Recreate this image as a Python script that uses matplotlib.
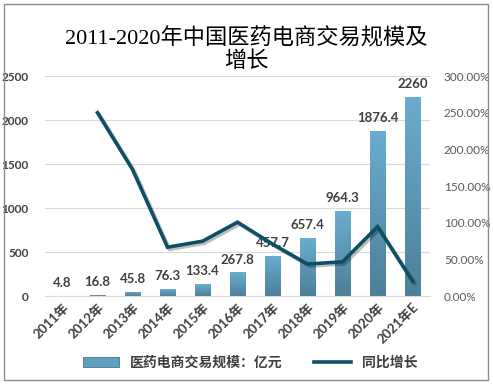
import matplotlib
matplotlib.use("Agg")
import matplotlib.pyplot as plt
import numpy as np
from matplotlib.patches import Rectangle, Patch
from matplotlib.lines import Line2D
from matplotlib.ticker import FuncFormatter, MultipleLocator
from matplotlib.colors import LinearSegmentedColormap
import matplotlib.patheffects as pe

plt.rcParams['font.family'] = ['Lato', 'Noto Sans CJK SC', 'DejaVu Sans']

categories = ['2011年', '2012年', '2013年', '2014年', '2015年', '2016年',
              '2017年', '2018年', '2019年', '2020年', '2021年E']
scale = [4.8, 16.8, 45.8, 76.3, 133.4, 267.8, 457.7, 657.4, 964.3, 1876.4, 2260]
growth = [None, 250.0, 172.6, 66.6, 74.8, 100.7, 70.9, 43.6, 46.7, 94.6, 20.4]
scale_labels = ['4.8', '16.8', '45.8', '76.3', '133.4', '267.8', '457.7',
                '657.4', '964.3', '1876.4', '2260']

title = '2011-2020年中国医药电商交易规模及\n增长'
bar_name = '医药电商交易规模：亿元'
line_name = '同比增长'

text_col = '#595959'
dark_col = '#404040'
line_col = '#0d4f66'

fig = plt.figure(figsize=(4.93, 3.84), dpi=100)
ax = fig.add_axes([0.0913, 0.229, 0.781, 0.573])
x = np.arange(len(categories))

bars = ax.bar(x, scale, width=0.43, color='#5fa0c0', edgecolor='#3f7590',
              linewidth=0.6, zorder=2)
grad = np.linspace(0, 1, 100).reshape(-1, 1)
cmap = LinearSegmentedColormap.from_list('g', ['#4e7f98', '#6aadcf'])
for b in bars:
    x0, y0 = b.get_x(), b.get_y()
    w, h = b.get_width(), b.get_height()
    im = ax.imshow(grad, extent=[x0, x0 + w, y0, y0 + h], origin='lower',
                   cmap=cmap, aspect='auto', zorder=2.5)
    im.set_clip_path(b)

for xi, v, lab in zip(x, scale, scale_labels):
    ax.annotate(lab, (xi, v), xytext=(0, 5), textcoords='offset points',
                ha='center', va='bottom', fontsize=9.5, fontweight='bold',
                color=dark_col, zorder=3)

ax.set_xlim(-0.5, len(categories) - 0.5)
ax.set_ylim(0, 2500)
ax.yaxis.set_major_locator(MultipleLocator(500))
ax.grid(axis='y', color='#d9d9d9', linewidth=0.8, zorder=0)
ax.set_axisbelow(True)
for s in ['top', 'right', 'left']:
    ax.spines[s].set_visible(False)
ax.spines['bottom'].set_color('#d9d9d9')
ax.tick_params(axis='both', length=0, colors=dark_col, labelsize=8.5)
ax.set_xticks(x)
ax.set_xticklabels(categories, rotation=45, ha='right', va='top',
                   rotation_mode='anchor', fontweight='bold', fontsize=9.5)
for t in ax.get_yticklabels():
    t.set_fontweight('bold')
ax.tick_params(axis='y', pad=12)

ax2 = ax.twinx()
gx = [xi for xi, g in zip(x, growth) if g is not None]
gy = [g for g in growth if g is not None]
ax2.plot(gx, gy, color=line_col, linewidth=2.6, zorder=5,
         solid_joinstyle='miter',
         path_effects=[pe.SimpleLineShadow(offset=(1.5, -1.5), alpha=0.25), pe.Normal()])
ax2.set_ylim(0, 300)
ax2.yaxis.set_major_locator(MultipleLocator(50))
ax2.yaxis.set_major_formatter(FuncFormatter(lambda v, p: f'{v:.2f}%'))
for s in ['top', 'right', 'left', 'bottom']:
    ax2.spines[s].set_visible(False)
ax2.tick_params(axis='y', length=0, colors=text_col, labelsize=8.5, pad=10)

fig.text(0.5, 0.87, title, ha='center', va='center', fontsize=16,
         family=['Liberation Serif', 'Noto Sans CJK SC'], linespacing=1.1,
         color='#000000')

handles = [Patch(facecolor='#5fa0c0', edgecolor='#3f7590', linewidth=0.6),
           Line2D([], [], color=line_col, linewidth=2.6)]
fig.legend(handles, [bar_name, line_name], loc='center',
           bbox_to_anchor=(0.507, 0.057), ncol=2, frameon=False,
           columnspacing=2.3, handlelength=2.6, handleheight=0.7,
           prop={'size': 10, 'weight': 'bold'}, labelcolor=dark_col)

fig.patches.append(Rectangle((4 / 493, 4 / 384), 484 / 493, 376 / 384,
                             transform=fig.transFigure, fill=False,
                             edgecolor='#8c8c8c', linewidth=1))

fig.savefig('out.png', dpi=100)
